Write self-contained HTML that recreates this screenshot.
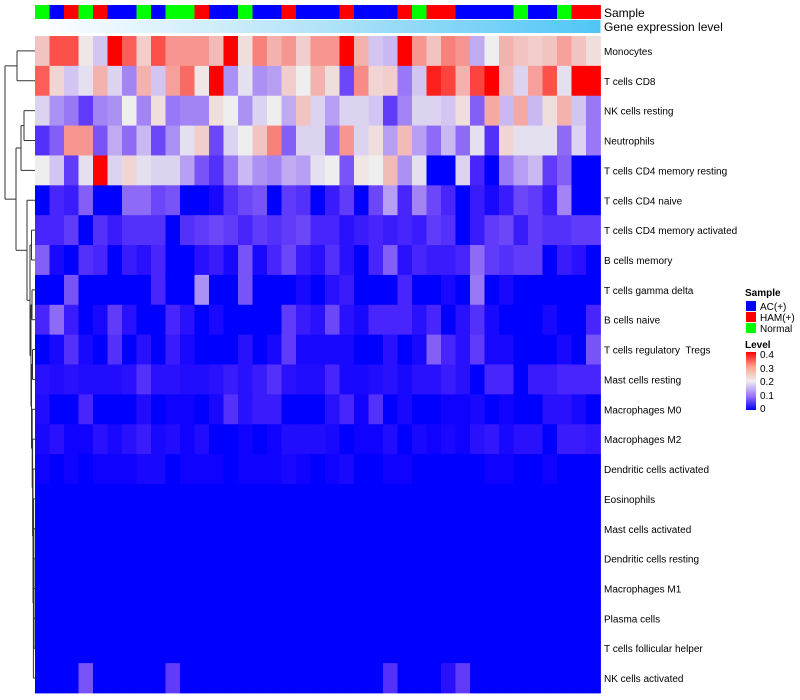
<!DOCTYPE html>
<html><head><meta charset="utf-8"><style>
html,body{margin:0;padding:0;background:#fff;}
svg{display:block;font-family:"Liberation Sans",sans-serif;}
#labels text{white-space:pre;}
</style></head><body>
<svg id="chart" width="800" height="700" viewBox="0 0 800 700">
<defs>
<linearGradient id="geneGrad" x1="0" x2="1" y1="0" y2="0">
<stop offset="0" stop-color="#ffffff"/><stop offset="0.5" stop-color="#b3e3f8"/><stop offset="1" stop-color="#4fc6f6"/>
</linearGradient>
<linearGradient id="levelGrad" x1="0" x2="0" y1="1" y2="0">
<stop offset="0" stop-color="#0000ff"/><stop offset="0.25" stop-color="#a078f8"/><stop offset="0.5" stop-color="#eeeeee"/><stop offset="0.75" stop-color="#ffa088"/><stop offset="1" stop-color="#ff0000"/>
</linearGradient>
</defs>
<g id="dendro"></g>
<g id="cells"></g>
<g id="sample"></g>
<rect x="35" y="20" width="565.5" height="13" fill="url(#geneGrad)"/>
<text x="604" y="17" font-size="12">Sample</text>
<text x="604" y="31" font-size="12">Gene expression level</text>
<g id="labels"></g>
<g>
<text x="745" y="296" font-size="10" font-weight="bold">Sample</text>
<rect x="746" y="301" width="10" height="10" fill="#0000ff"/>
<text x="760" y="310" font-size="10">AC(+)</text>
<rect x="746" y="312" width="10" height="10" fill="#ff0000"/>
<text x="760" y="321" font-size="10">HAM(+)</text>
<rect x="746" y="323" width="10" height="10" fill="#00ff00"/>
<text x="760" y="332" font-size="10">Normal</text>
</g>
<g>
<text x="745" y="348" font-size="10" font-weight="bold">Level</text>
<rect x="746" y="352" width="10" height="58" fill="url(#levelGrad)"/>
<text x="760" y="358" font-size="10">0.4</text>
<text x="760" y="372" font-size="10">0.3</text>
<text x="760" y="385" font-size="10">0.2</text>
<text x="760" y="399" font-size="10">0.1</text>
<text x="760" y="412" font-size="10">0</text>
</g>
</svg>
<script>
const rowLabels = ["Monocytes","T cells CD8","NK cells resting","Neutrophils","T cells CD4 memory resting","T cells CD4 naive","T cells CD4 memory activated","B cells memory","T cells gamma delta","B cells naive","T cells regulatory  Tregs","Mast cells resting","Macrophages M0","Macrophages M2","Dendritic cells activated","Eosinophils","Mast cells activated","Dendritic cells resting","Macrophages M1","Plasma cells","T cells follicular helper","NK cells activated"];
const sampleGroups = ["N","A","H","N","H","A","A","N","A","N","N","H","A","A","N","A","A","H","A","A","A","H","A","A","A","H","N","H","H","A","A","A","A","N","A","A","N","H","H"];
const r0 = [.25,.36,.36,.21,.17,.4,.35,.24,.36,.3,.3,.3,.26,.4,.22,.32,.27,.3,.24,.3,.3,.4,.27,.17,.16,.4,.3,.25,.32,.3,.15,.2,.27,.25,.24,.25,.29,.25,.22];
const r1 = [.35,.23,.17,.19,.27,.18,.12,.27,.17,.29,.34,.21,.4,.13,.19,.13,.14,.24,.2,.27,.22,.07,.31,.23,.24,.11,.17,.39,.37,.27,.37,.4,.26,.18,.29,.36,.19,.4,.4];
const r2 = [.18,.13,.11,.06,.12,.13,.2,.12,.22,.11,.12,.12,.22,.2,.13,.18,.2,.15,.25,.18,.14,.18,.18,.17,.06,.12,.18,.18,.17,.22,.09,.28,.16,.28,.16,.22,.27,.17,.11];
const r3 = [.05,.09,.3,.3,.08,.15,.1,.16,.07,.13,.19,.24,.07,.18,.2,.25,.32,.09,.18,.18,.1,.3,.18,.22,.14,.26,.14,.1,.16,.1,.19,.05,.23,.19,.19,.19,.1,.18,.11];
const r4 = [.2,.17,.06,.19,.4,.18,.23,.19,.18,.18,.14,.08,.05,.11,.16,.13,.12,.15,.14,.19,.2,.08,.21,.2,.26,.13,.19,0,0,.18,.04,0,.11,.14,.16,.06,.09,0,0];
const r5 = [0,.04,.03,.09,0,0,.1,.1,.07,.08,0,0,.01,.05,.07,.08,0,.06,.05,0,.03,.06,0,.07,.14,.04,.12,.07,.04,0,.03,.01,.03,.07,.06,.03,.12,0,0];
const r6 = [.04,.04,.06,0,.05,.03,.05,.05,.05,0,.05,.06,.07,.06,.04,.06,.05,.06,.07,.04,.04,.02,.03,.04,.03,.04,.03,.06,.05,0,.03,.06,.07,.03,.06,.05,.05,.06,.06];
const r7 = [.09,.01,0,.05,.04,0,.03,.02,.04,0,0,.02,.03,.01,.08,.01,.04,.07,.03,.02,.05,.02,0,.04,.09,.02,.04,.03,.03,.04,.1,.06,.05,.06,.06,0,.03,.02,0];
const r8 = [0,0,.08,0,0,0,0,0,.04,0,0,.13,0,0,.08,0,0,0,.01,0,.02,.03,0,0,0,.04,0,0,.01,0,.11,0,.01,0,0,0,0,0,0];
const r9 = [.04,.1,.03,0,.01,.06,.02,0,0,.04,.02,0,.01,0,0,0,0,.06,.03,.02,.07,.02,.01,.04,.04,.04,.02,.04,0,.02,.05,.01,0,0,0,.01,0,0,.04];
const r10 = [0,.01,.05,.01,0,.05,0,.02,0,.03,.01,0,0,0,.02,0,.01,.06,.01,.01,.01,.01,0,0,.02,0,.01,.09,.04,.02,.06,.01,.01,0,0,0,.01,0,.08];
const r11 = [.02,.015,.02,.015,.015,.015,.02,.05,.02,.02,.015,.015,.02,.03,.02,.03,.05,.02,.015,.015,.04,.01,.01,.015,.02,.01,.02,.02,.03,.02,0,.04,.04,0,.03,.03,.04,.04,.04];
const r12 = [.015,0,0,.04,0,0,0,.015,0,.005,.005,0,.01,.05,.02,.03,.03,0,0,0,.02,.04,.005,.05,0,.01,0,0,.005,.005,.01,0,.005,0,0,.02,.02,.01,0];
const r13 = [.01,.02,.005,.005,.02,.01,.02,.03,.01,.015,.005,.015,0,0,.005,0,.005,.015,.015,.015,.01,0,.005,.005,.015,0,.01,.005,.01,.005,.02,.025,.01,.02,.02,0,.03,.03,.025];
const r14 = [.005,0,.005,0,.005,.005,.005,.01,.01,0,.005,.005,.005,0,.005,.005,.005,.01,.005,0,.005,.01,0,0,.005,.005,0,0,0,0,0,.005,.005,0,0,.005,0,0,0];
const r15 = [0,0,0,0,0,0,0,0,0,0,0,0,0,0,0,0,0,0,0,0,0,0,0,0,0,0,0,0,0,0,0,0,0,0,0,0,0,0,0];
const r16 = [0,0,0,0,0,0,0,0,0,0,0,0,0,0,0,0,0,0,0,0,0,0,0,0,0,0,0,0,0,0,0,0,0,0,0,0,0,0,0];
const r17 = [0,0,0,0,0,0,0,0,0,0,0,0,0,0,0,0,0,0,0,0,0,0,0,0,0,0,0,0,0,0,0,0,0,0,0,0,0,0,0];
const r18 = [0,0,0,0,0,0,0,0,0,0,0,0,0,0,0,0,0,0,0,0,0,0,0,0,0,0,0,0,0,0,0,0,0,0,0,0,0,0,0];
const r19 = [0,0,0,0,0,0,0,0,0,0,0,0,0,0,0,0,0,0,0,0,0,0,0,0,0,0,0,0,0,0,0,0,0,0,0,0,0,0,0];
const r20 = [0,0,0,0,0,0,0,0,0,0,0,0,0,0,0,0,0,0,0,0,0,0,0,0,0,0,0,0,0,0,0,0,0,0,0,0,0,0,0];
const r21 = [0,0,0,.08,0,0,0,0,0,.06,0,0,0,0,0,0,0,0,0,0,0,0,0,0,.05,0,0,0,.02,.06,0,0,0,0,0,0,0,0,0];
const values = [r0,r1,r2,r3,r4,r5,r6,r7,r8,r9,r10,r11,r12,r13,r14,r15,r16,r17,r18,r19,r20,r21];
const merges = [
 [-1,-2,17],[-3,-4,24],[2,-5,21],
 [-20,-21,34],[-19,4,34],[-18,5,34],[-17,6,33.8],[-16,7,33.6],[-22,8,33.4],[-15,9,33],
 [-14,10,32.6],[-13,11,32.2],[-12,-11,32.5],[12,13,31.5],[-10,-9,32],[15,14,31],
 [-8,-7,31.5],[17,16,30],[-6,18,27],[3,19,16],[1,20,5]
];
const NS='http://www.w3.org/2000/svg';
const X0=35, Y0=36, CW=14.5, RH=657/22;
const xScale = j => X0 + j*CW;
const yScale = i => Y0 + i*RH;
function colorFor(v){
  let r,g,b;
  if(v<=0.2){const t=Math.max(0,v)/0.2; r=238*Math.pow(t,0.75); g=238*Math.pow(t,1.15); b=255-17*t; }
  else {const t=Math.min(1,(v-0.2)/0.2); r=255-17*(1-t); g=238*Math.pow(1-t,0.67); b=238*Math.pow(1-t,0.72);}
  return `rgb(${Math.round(r)},${Math.round(g)},${Math.round(b)})`;
}
const cells=document.getElementById('cells');
values.forEach((row,i)=>row.forEach((v,j)=>{
  const rc=document.createElementNS(NS,'rect');
  rc.setAttribute('x',xScale(j)); rc.setAttribute('y',yScale(i));
  rc.setAttribute('width',CW+0.4); rc.setAttribute('height',RH+0.4);
  rc.setAttribute('fill',colorFor(v));
  
  
  cells.appendChild(rc);
}));
const sampleColors={A:'#0000ff',H:'#ff0000',N:'#00ff00'};
const sg=document.getElementById('sample');
sampleGroups.forEach((s,j)=>{
  const rc=document.createElementNS(NS,'rect');
  rc.setAttribute('x',xScale(j)); rc.setAttribute('y',5);
  rc.setAttribute('width',CW+0.4); rc.setAttribute('height',14);
  rc.setAttribute('fill',sampleColors[s]);
  
  
  sg.appendChild(rc);
});
const lg=document.getElementById('labels');
rowLabels.forEach((l,i)=>{
  const t=document.createElementNS(NS,'text');
  t.setAttribute('x',604); t.setAttribute('y',yScale(i)+RH/2+4);
  t.setAttribute('font-size','10');
  t.setAttributeNS('http://www.w3.org/XML/1998/namespace','xml:space','preserve');
  t.textContent=l;
  
  
  lg.appendChild(t);
});
const dg=document.getElementById('dendro');
const nodeInfo=[];
function info(id){ if(id<0){const i=-id-1; return {x:X0,y:yScale(i)+RH/2};} return nodeInfo[id-1]; }
function line(x1,y1,x2,y2){
  const l=document.createElementNS(NS,'line');
  l.setAttribute('x1',x1);l.setAttribute('y1',y1);l.setAttribute('x2',x2);l.setAttribute('y2',y2);
  l.setAttribute('stroke','#333');l.setAttribute('stroke-width','1');
  
  
  dg.appendChild(l);
}
merges.forEach(m=>{
  const a=info(m[0]), b=info(m[1]), x=m[2];
  line(x,a.y,a.x,a.y); line(x,b.y,b.x,b.y); line(x,a.y,x,b.y);
  nodeInfo.push({x:x,y:(a.y+b.y)/2});
});
</script>
</body></html>
